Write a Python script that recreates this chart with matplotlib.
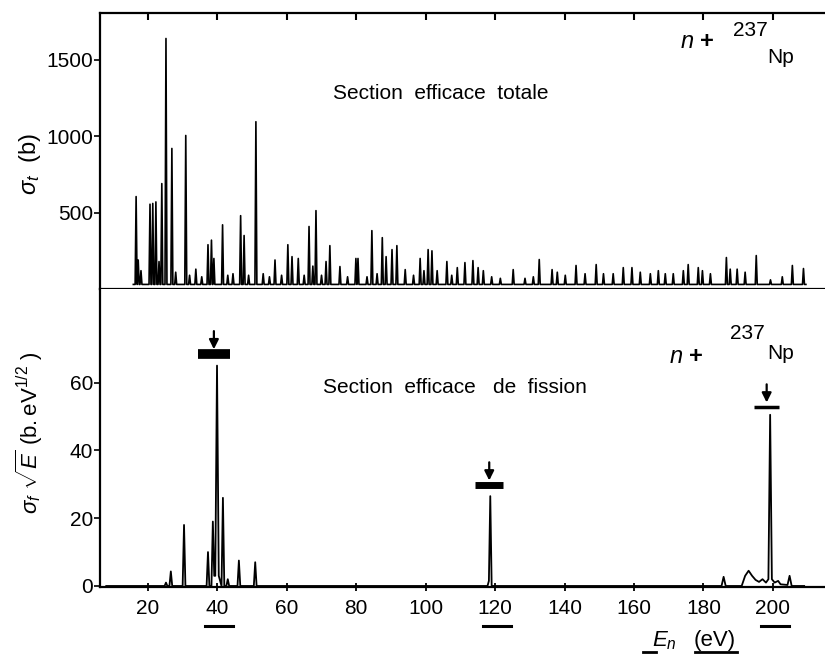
import matplotlib
matplotlib.use("Agg")
import matplotlib.pyplot as plt
import matplotlib.transforms as mtransforms
import numpy as np

plt.rcParams['font.family'] = ['Liberation Sans', 'DejaVu Sans']
plt.rcParams['mathtext.fontset'] = 'custom'
plt.rcParams['mathtext.rm'] = 'Liberation Sans'
plt.rcParams['mathtext.it'] = 'Liberation Sans:italic'

# total cross section: resonance positions (eV) and peak heights (b)
tot_E = [16.6, 17.2, 18.0, 20.6, 21.4, 22.3, 23.2, 24.0, 25.2, 26.9, 28.0,
         30.9, 32.0, 33.8, 35.5, 37.3, 38.3, 39.0, 41.5, 43.0, 44.5, 46.7,
         47.7, 49.0, 51.1, 53.2, 55.0, 56.6, 58.5, 60.3, 61.5, 63.3, 65.0,
         66.4, 67.5, 68.4, 70.0, 71.3, 72.4, 75.3, 77.5, 79.9, 80.5, 83.1,
         84.5, 86.0, 87.5, 88.6, 90.3, 91.7, 94.1, 96.5, 98.4, 99.5, 100.7,
         101.8, 103.3, 106.1, 107.5, 109.1, 111.3, 113.6, 115.1, 116.6,
         119.0, 121.5, 125.2, 128.6, 131.0, 132.7, 136.4, 137.9, 140.2,
         143.3, 145.9, 149.1, 151.2, 154.0, 156.9, 159.4, 161.8, 164.7,
         167.0, 169.0, 171.3, 174.2, 175.6, 178.5, 179.7, 182.0, 186.6,
         187.7, 189.7, 192.0, 195.2, 199.3, 202.7, 205.6, 208.8]
tot_sigma = [605, 190, 120, 555, 560, 570, 180, 690, 1640, 920, 110,
             1005, 90, 130, 80, 290, 320, 200, 420, 90, 100, 480,
             350, 90, 1095, 100, 80, 190, 90, 290, 212, 200, 90,
             409, 150, 513, 90, 180, 284, 147, 80, 200, 200, 80,
             382, 100, 336, 212, 258, 284, 127, 90, 200, 120, 258,
             250, 120, 180, 90, 140, 173, 186, 140, 120,
             80, 70, 127, 70, 80, 193, 127, 110, 90,
             154, 100, 160, 100, 100, 140, 140, 110, 100,
             120, 100, 100, 120, 160, 140, 120, 100, 206,
             130, 130, 110, 219, 60, 80, 154, 134]
tot_base = 30

# fission cross section * sqrt(E): trace vertices
fis_E = [8, 24.8, 25.2, 25.6, 26.2, 26.6, 27.0, 30.0, 30.4, 30.8,
         36.9, 37.3, 37.7, 38.3, 38.7, 39.1, 39.4, 39.9, 40.4, 41.2,
         41.6, 42.0, 42.6, 43.0, 43.4, 45.8, 46.2, 46.6, 50.5, 50.9,
         51.3, 117.8, 118.2, 118.6, 119.0, 185.2, 185.8, 186.4, 191.0, 192.0,
         193.0, 194.0, 195.0, 196.0, 197.0, 198.0, 198.7, 199.2, 199.7, 200.5,
         201.5, 202.2, 204.2, 204.8, 205.4, 209.0]
fis_val = [0, 0, 1.0, 0, 0, 4.3, 0, 0, 18, 0,
           0, 10, 0, 0, 19, 3, 3, 65, 3, 0,
           26, 0, 0, 2, 0, 0, 7.5, 0, 0, 7,
           0, 0, 1.5, 26.5, 0, 0, 2.7, 0, 0, 3.0,
           4.5, 3.0, 1.8, 1.2, 2.0, 1.0, 2.0, 50.5, 2.0, 1.0,
           1.5, 0.5, 0.3, 3.0, 0, 0]

# resonances marked with arrows in the fission panel
mark_E = [39.0, 118.3, 198.2]
mark_level = [68.5, 29.8, 52.8]
mark_halfwidth = [4.7, 4.0, 3.6]
mark_thick = [7, 5, 2.5]

xticks = [20, 40, 60, 80, 100, 120, 140, 160, 180, 200]
underlined = [40, 120, 200]

# build the total cross section trace as narrow spikes on a baseline
hw = 0.28
tx, ty = [15.8], [tot_base]
for e, s in zip(tot_E, tot_sigma):
    tx += [e - hw, e, e + hw]
    ty += [tot_base, s, tot_base]
tx.append(209.5)
ty.append(tot_base)

fig = plt.figure(figsize=(8.25, 6.56), dpi=100)
left, right = 100 / 825, 1.0
y_top, y_mid, y_bot = 1 - 13 / 656, 1 - 289 / 656, 1 - 587 / 656
ax1 = fig.add_axes([left, y_mid, right - left, y_top - y_mid])
ax2 = fig.add_axes([left, y_bot, right - left, y_mid - y_bot])

lw_axis = 1.6
for ax in (ax1, ax2):
    ax.set_xlim(6.2, 215)
    ax.spines['right'].set_visible(False)
    for sp in ('left', 'top', 'bottom'):
        ax.spines[sp].set_linewidth(lw_axis)
ax2.spines['top'].set_visible(False)

ax1.plot(tx, ty, color='black', lw=1.2)
ax1.set_ylim(0, 1807)
ax1.set_yticks([500, 1000, 1500])
ax1.set_xticks(xticks)
ax1.tick_params(axis='x', which='both', top=True, bottom=True, direction='in',
                length=5, width=1.5, labelbottom=False)
ax1.tick_params(axis='y', direction='out', length=4, width=1.2,
                labelsize=15, pad=1)
# ticks on the middle line point down into the fission panel
for t in ax1.xaxis.get_major_ticks():
    t.tick1line.set_marker(matplotlib.lines.TICKDOWN)

ax2.plot(fis_E, fis_val, color='black', lw=1.3)
ax2.set_ylim(-0.3, 87.6)
ax2.set_yticks([0, 20, 40, 60])
ax2.set_xticks(xticks)
ax2.tick_params(axis='x', direction='inout', length=6, width=1.3,
                labelsize=15, pad=6)
ax2.tick_params(axis='y', direction='out', length=4, width=1.2,
                labelsize=15, pad=1)

for e, lev, half, th in zip(mark_E, mark_level, mark_halfwidth, mark_thick):
    ax2.hlines(lev, e - half, e + half, color='black', lw=th)
    ax2.annotate('', xy=(e, lev + 0.5), xytext=(e, lev + 7.5),
                 arrowprops=dict(arrowstyle='-|>', color='black', lw=1.6,
                                 mutation_scale=14))

# underline of the highlighted energies
blend = mtransforms.blended_transform_factory(ax2.transData, ax2.transAxes)
for u in underlined:
    ax2.plot([u - 3.5, u + 4.5], [-0.13, -0.13], color='black', lw=2.2,
             transform=blend, clip_on=False)

ax1.text(0.47, 0.71, 'Section  efficace  totale', transform=ax1.transAxes,
         ha='center', va='center', fontsize=15)
ax1.text(0.80, 0.895, r'$\mathit{n}$ +', transform=ax1.transAxes,
         ha='left', va='center', fontsize=17, fontweight='bold')
ax1.text(0.873, 0.935, '237', transform=ax1.transAxes, ha='left',
         va='center', fontsize=15)
ax1.text(0.921, 0.84, 'Np', transform=ax1.transAxes, ha='left',
         va='center', fontsize=15)

ax2.text(0.49, 0.668, 'Section  efficace   de  fission',
         transform=ax2.transAxes, ha='center', va='center', fontsize=15)
ax2.text(0.785, 0.775, r'$\mathit{n}$ +', transform=ax2.transAxes,
         ha='left', va='center', fontsize=17, fontweight='bold')
ax2.text(0.869, 0.852, '237', transform=ax2.transAxes, ha='left',
         va='center', fontsize=15)
ax2.text(0.921, 0.785, 'Np', transform=ax2.transAxes, ha='left',
         va='center', fontsize=15)

fig.text(0.036, 0.75, r'$\sigma_t$  (b)', rotation=90, ha='center',
         va='center', fontsize=17)
fig.text(0.036, 0.34, r'$\sigma_f\ \sqrt{E}\ (\mathrm{b.eV}^{1/2}\ )$',
         rotation=90, ha='center', va='center', fontsize=16)

fig.text(0.805, 0.024, r'$E_n$', ha='center', va='center', fontsize=16)
fig.text(0.866, 0.024, '(eV)', ha='center', va='center', fontsize=16)
fig.add_artist(matplotlib.lines.Line2D([643 / 825, 656 / 825],
                                       [1 - 652 / 656] * 2, color='black',
                                       lw=2))
fig.add_artist(matplotlib.lines.Line2D([695 / 825, 737 / 825],
                                       [1 - 652 / 656] * 2, color='black',
                                       lw=2))

fig.savefig('out.png', dpi=100)
